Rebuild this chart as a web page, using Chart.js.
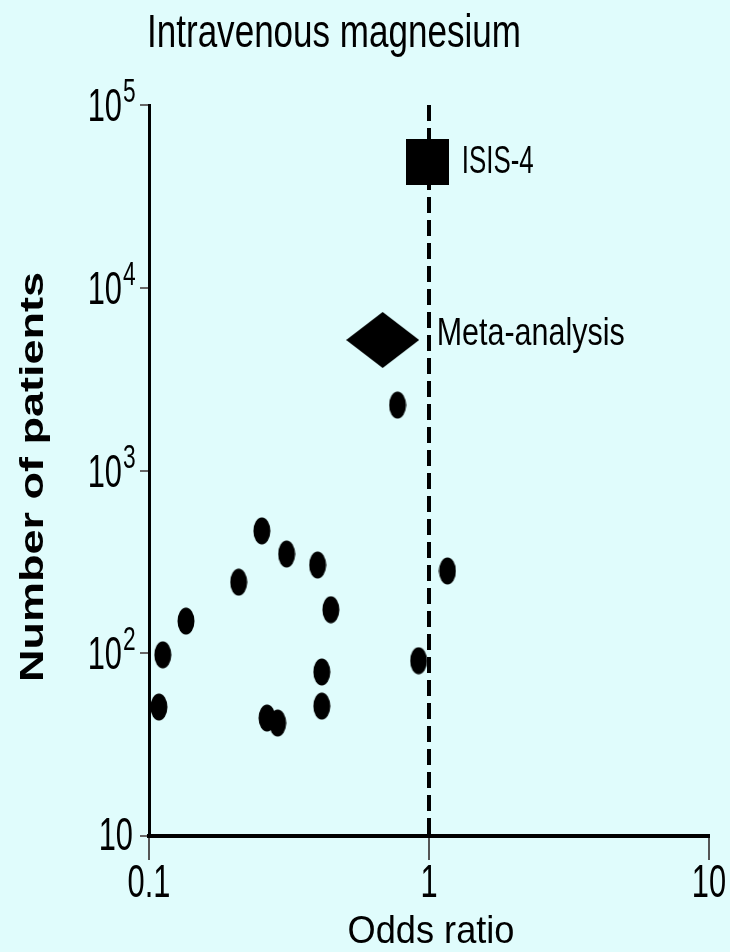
<!DOCTYPE html>
<html>
<head>
<meta charset="utf-8">
<script src="https://cdn.jsdelivr.net/npm/chart.js@4.4.0/dist/chart.umd.min.js"></script>
<style>
  html, body { margin: 0; padding: 0; background: #e0fcfc; }
  canvas { display: block; }
</style>
</head>
<body>
<canvas id="funnel" width="730" height="952"></canvas>
<script>
// values
const xTicks = [0.1, 1, 10];
const yTicks = [10, 100, 1000, 10000, 100000];

const trialOR = [0.253, 0.310, 0.400, 0.209, 0.1355, 0.446, 0.112, 1.164, 0.918, 0.414, 0.1085, 0.414, 0.264, 0.288, 0.772];
const trialN  = [467,   349,   304,   245,   150,    173,   98,    282,   91,    79,    50.8,   51.4,  44.2,  41.5,  2280];

const metaOR = [0.683];
const metaN  = [5180];
const isisOR = [0.99];
const isisN  = [48700];

const nullLine = [1, 1];
const nullLineN = [100000, 10];

const BG = '#e0fcfc';
const FONT = '"Liberation Sans", Arial, sans-serif';

// point shapes
function makeShape(w, h, fn) {
  const c = document.createElement('canvas');
  c.width = w; c.height = h;
  const g = c.getContext('2d');
  g.fillStyle = '#000';
  g.beginPath();
  fn(g, w, h);
  g.fill();
  return c;
}
const dot = makeShape(18, 28, (g, w, h) => g.ellipse(w / 2, h / 2, w / 2 - 0.5, h / 2 - 0.5, 0, 0, Math.PI * 2));
const box = makeShape(43, 46, (g, w, h) => g.rect(0, 0, w, h));
const diamond = makeShape(73, 56, (g, w, h) => {
  g.moveTo(w / 2, 0); g.lineTo(w, h / 2); g.lineTo(w / 2, h); g.lineTo(0, h / 2); g.closePath();
});

// narrow text: squeezed to a given width
function txt(ctx, s, x, y, size, width, align, bold) {
  ctx.save();
  ctx.font = (bold ? 'bold ' : '') + size + 'px ' + FONT;
  ctx.textBaseline = 'alphabetic';
  ctx.textAlign = 'left';
  ctx.fillStyle = '#000';
  const w0 = ctx.measureText(s).width;
  const sx = width / w0;
  let left = x;
  if (align === 'center') left = x - width / 2;
  if (align === 'right') left = x - width;
  ctx.translate(left, y);
  ctx.scale(sx, 1);
  ctx.fillText(s, 0, 0);
  ctx.restore();
}

const DIGIT_SX = 0.67;
function digits(ctx, s, size) {
  ctx.font = size + 'px ' + FONT;
  return ctx.measureText(s).width * DIGIT_SX;
}

const bgPlugin = {
  id: 'bg',
  beforeDraw(chart) {
    const ctx = chart.ctx;
    ctx.save();
    ctx.fillStyle = BG;
    ctx.fillRect(0, 0, chart.width, chart.height);
    ctx.restore();
  }
};

const textPlugin = {
  id: 'texts',
  afterDraw(chart) {
    const ctx = chart.ctx;
    const xs = chart.scales.x, ys = chart.scales.y;

    // title
    txt(ctx, 'Intravenous magnesium', 334, 47, 46, 374, 'center');

    // y tick labels, 10 with superscript exponent
    yTicks.forEach(v => {
      const py = ys.getPixelForValue(v);
      const e = Math.round(Math.log10(v));
      if (e === 1) {
        txt(ctx, '10', 133, py + 14, 46, digits(ctx, '10', 46), 'right');
      } else {
        txt(ctx, '10', 122, py + 16, 46, digits(ctx, '10', 46), 'right');
        txt(ctx, String(e), 123, py - 3, 34, digits(ctx, String(e), 34), 'left');
      }
    });

    // x tick labels
    xTicks.forEach(v => {
      const px = xs.getPixelForValue(v);
      const s = String(v);
      txt(ctx, s, px, xs.top + 61, 46, digits(ctx, s, 46), 'center');
    });

    // axis titles
    txt(ctx, 'Odds ratio', (xs.left + xs.right) / 2 + 2, 943, 39, 167, 'center');
    ctx.save();
    ctx.translate(43, 477);
    ctx.rotate(-Math.PI / 2);
    txt(ctx, 'Number of patients', 0, 0, 34, 410, 'center', true);
    ctx.restore();

    // point labels
    const isis = chart.getDatasetMeta(2).data[0];
    txt(ctx, 'ISIS-4', isis.x + 34, isis.y + 11, 39, 72, 'left');
    const meta = chart.getDatasetMeta(1).data[0];
    txt(ctx, 'Meta-analysis', meta.x + 54, meta.y + 5, 39, 188, 'left');
  }
};

new Chart(document.getElementById('funnel'), {
  type: 'scatter',
  data: {
    datasets: [
      {
        label: 'Trials',
        data: trialOR.map((x, i) => ({ x: x, y: trialN[i] })),
        pointStyle: dot,
        pointRadius: 9,
        clip: false
      },
      {
        label: 'Meta-analysis',
        data: metaOR.map((x, i) => ({ x: x, y: metaN[i] })),
        pointStyle: diamond,
        pointRadius: 20,
        clip: false
      },
      {
        label: 'ISIS-4',
        data: isisOR.map((x, i) => ({ x: x, y: isisN[i] })),
        pointStyle: box,
        pointRadius: 20,
        clip: false
      },
      {
        label: 'OR = 1',
        type: 'line',
        data: nullLine.map((x, i) => ({ x: x, y: nullLineN[i] })),
        borderColor: '#000',
        borderWidth: 4,
        borderDash: [16, 7],
        pointRadius: 0,
        fill: false,
        clip: false
      }
    ]
  },
  options: {
    responsive: false,
    animation: false,
    devicePixelRatio: 1,
    layout: { padding: { top: 105, right: 21, bottom: 0, left: 0 } },
    plugins: {
      legend: { display: false },
      title: { display: false },
      tooltip: { enabled: false }
    },
    scales: {
      x: {
        type: 'logarithmic',
        min: 0.1,
        max: 10,
        afterBuildTicks: s => { s.ticks = xTicks.map(v => ({ value: v })); },
        afterFit: s => { s.height = 116; },
        ticks: { display: false },
        grid: { drawOnChartArea: false, color: '#555', lineWidth: 2, tickLength: 24 },
        border: { color: '#000', width: 4 }
      },
      y: {
        type: 'logarithmic',
        min: 10,
        max: 100000,
        afterBuildTicks: s => { s.ticks = yTicks.map(v => ({ value: v })); },
        afterFit: s => { s.width = 149; },
        ticks: { display: false },
        grid: { drawOnChartArea: false, color: '#666', lineWidth: 2, tickLength: 9 },
        border: { color: '#000', width: 3 }
      }
    }
  },
  plugins: [bgPlugin, textPlugin]
});
</script>
</body>
</html>
